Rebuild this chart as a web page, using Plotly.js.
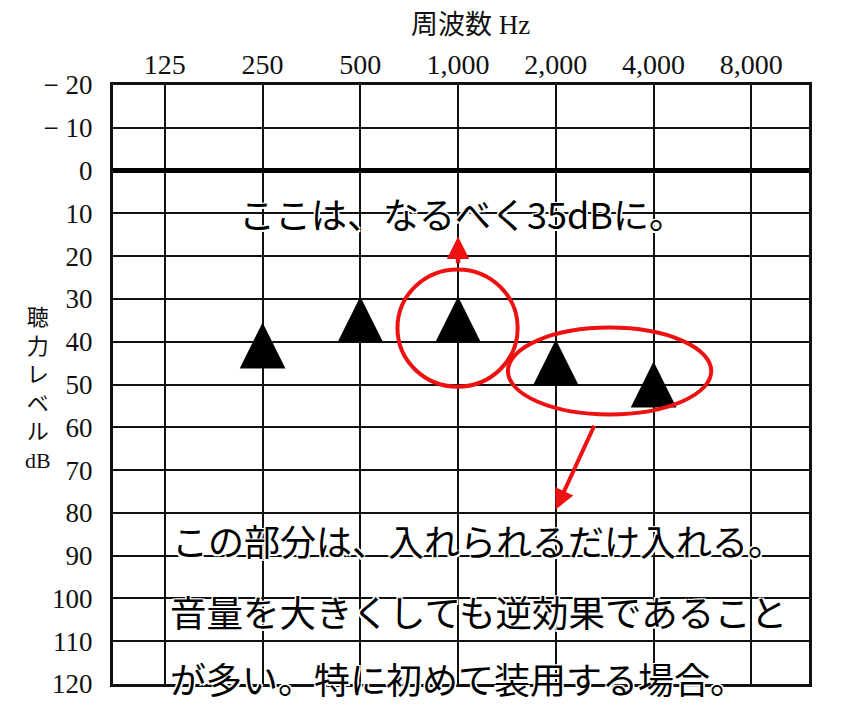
<!DOCTYPE html>
<html>
<head>
<meta charset="utf-8">
<script src="https://cdn.plot.ly/plotly-3.0.1.min.js"></script>
<style>
  html, body { margin: 0; padding: 0; background: #fff; }
  #chart { width: 850px; height: 712px; }
</style>
</head>
<body>
<div id="chart"></div>
<script>
// frequency axis (top), in order
const freqLabels = ['125', '250', '500', '1,000', '2,000', '4,000', '8,000'];

const measuredFreqs = ['250', '500', '1,000', '2,000', '4,000'];
const hearingLevels = [41, 35, 35, 45, 50];

// hearing level axis
const levelTicks = [-20, -10, 0, 10, 20, 30, 40, 50, 60, 70, 80, 90, 100, 110, 120];
const levelTickText = ['− 20', '− 10', '0', '10', '20', '30', '40', '50', '60', '70', '80', '90', '100', '110', '120'];

const serif = 'Liberation Serif, Noto Sans CJK JP, serif';
const sans = 'Noto Sans CJK JP, sans-serif';
const red = '#ee1111';
const ink = '#111';
const halo = '1.5px 1.5px 0 #fff, -1.5px -1.5px 0 #fff, 1.5px -1.5px 0 #fff, -1.5px 1.5px 0 #fff';

const trace = {
  x: measuredFreqs.map(f => freqLabels.indexOf(f)),
  y: hearingLevels,
  type: 'scatter',
  mode: 'text',
  text: measuredFreqs.map(() => '▲'),
  textposition: 'middle center',
  textfont: { family: 'DejaVu Sans', size: 60, color: '#000' },
  hoverinfo: 'skip',
  showlegend: false
};

const note = (text, x, y, size) => ({
  text: text, x: x, y: y, xref: 'x', yref: 'y',
  xanchor: 'left', yanchor: 'middle', showarrow: false,
  font: { family: sans, size: size || 36, color: '#000', shadow: halo }
});

const layout = {
  width: 850,
  height: 712,
  margin: { l: 113, r: 41, t: 85, b: 28 },
  paper_bgcolor: '#fff',
  plot_bgcolor: '#fff',
  showlegend: false,
  xaxis: {
    range: [-0.53, 6.59],
    side: 'top',
    tickvals: freqLabels.map((f, i) => i),
    ticktext: freqLabels,
    ticks: '',
    ticklabelstandoff: -3,
    tickfont: { family: serif, size: 28, color: ink },
    showgrid: true, gridcolor: ink, gridwidth: 2,
    showline: true, mirror: true, linecolor: ink, linewidth: 3,
    zeroline: false, fixedrange: true
  },
  yaxis: {
    range: [120, -20],
    tickvals: levelTicks,
    ticktext: levelTickText,
    ticks: '',
    ticklabelstandoff: 12,
    tickfont: { family: serif, size: 27, color: ink },
    showgrid: true, gridcolor: ink, gridwidth: 2,
    zeroline: true, zerolinecolor: '#000', zerolinewidth: 5,
    showline: true, mirror: true, linecolor: ink, linewidth: 3,
    fixedrange: true
  },
  shapes: [
    { type: 'circle', xref: 'x', yref: 'y', x0: 2.38, x1: 3.61, y0: 23.1, y1: 50.5,
      line: { color: red, width: 4 } },
    { type: 'circle', xref: 'x', yref: 'y', x0: 3.51, x1: 5.59, y0: 36.7, y1: 57.0,
      line: { color: red, width: 4 } }
  ],
  annotations: [
    { text: '周波数 Hz', xref: 'paper', yref: 'paper', x: 0.514, y: 1.1,
      xanchor: 'center', yanchor: 'middle', showarrow: false,
      font: { family: serif, size: 27, color: ink } },
    { text: '聴<br>力<br>レ<br>ベ<br>ル<br>dB', xref: 'paper', yref: 'y', x: -0.108, y: 51,
      xanchor: 'center', yanchor: 'middle', showarrow: false,
      font: { family: serif, size: 22, color: ink } },
    // arrows
    { text: '', x: 3, y: 15.4, ax: 3, ay: 22, axref: 'x', ayref: 'y', xref: 'x', yref: 'y',
      showarrow: true, arrowhead: 2, arrowsize: 1, arrowwidth: 4.5, arrowcolor: red },
    { text: '', x: 4.0, y: 79.2, ax: 4.4, ay: 59.3, axref: 'x', ayref: 'y', xref: 'x', yref: 'y',
      showarrow: true, arrowhead: 2, arrowsize: 1, arrowwidth: 4, arrowcolor: red },
    // notes
    note('ここは、なるべく35dBに。', 0.74, 9.8),
    note('この部分は、入れられるだけ入れる。', 0.05, 86.4),
    note('音量を大きくしても逆効果であること', 0.03, 103, 36.5),
    note('が多い。特に初めて装用する場合。', 0.03, 118.7)
  ]
};

Plotly.newPlot('chart', [trace], layout, { displayModeBar: false, staticPlot: true });
</script>
</body>
</html>
